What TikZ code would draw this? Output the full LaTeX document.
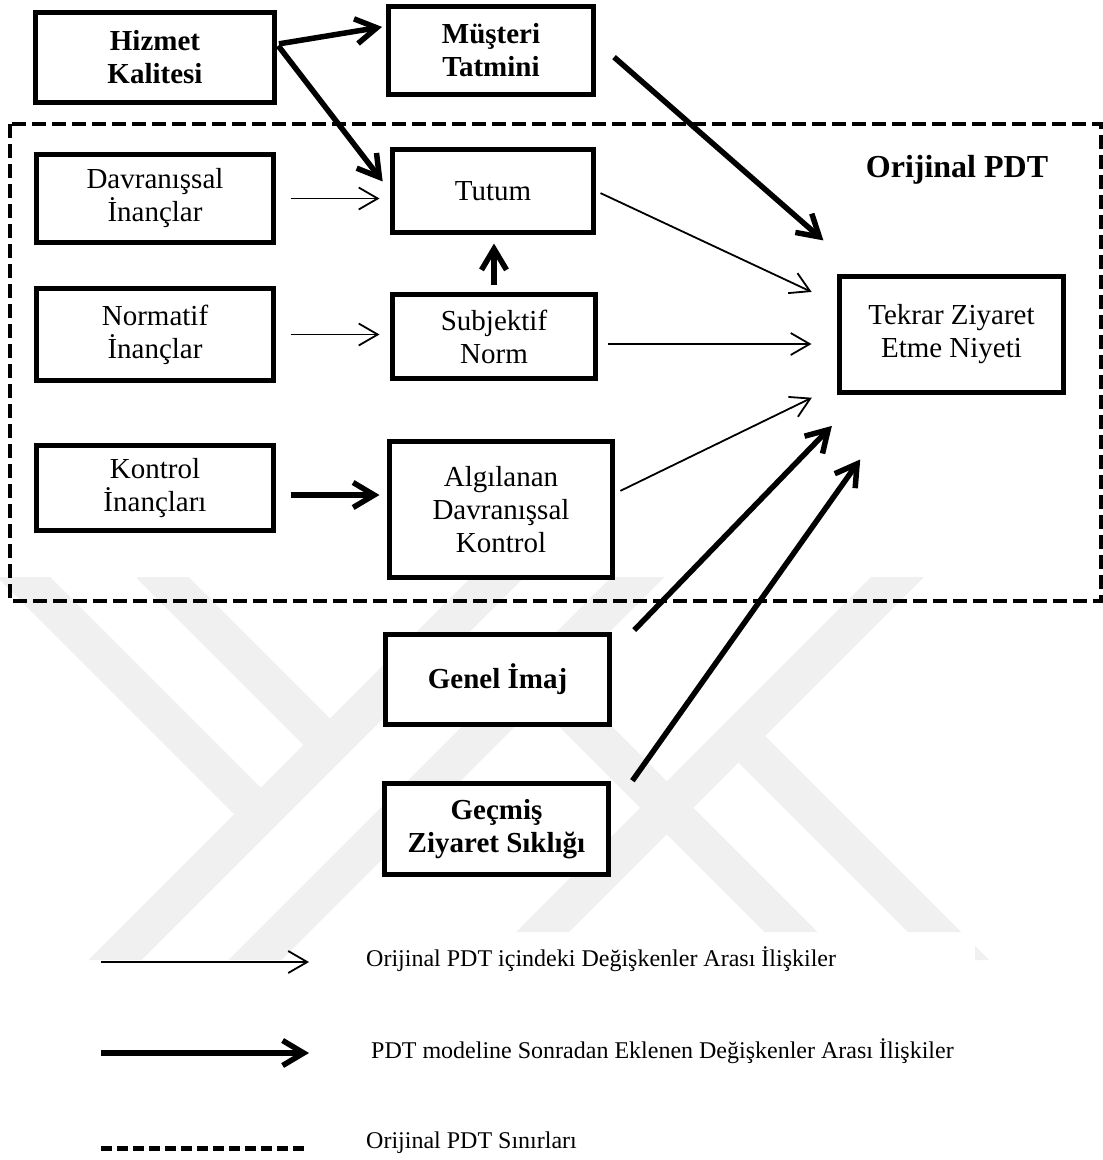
\documentclass[tikz,border=0pt]{standalone}
\usepackage{fontspec}
\setmainfont{Liberation Serif}
\usetikzlibrary{arrows.meta,calc}

\begin{document}
\begin{tikzpicture}[x=1pt,y=-1pt,
  box/.style={draw, line width=5pt, fill=white, align=center, inner sep=0pt,
    font=\fontsize{29}{33}\selectfont},
  boldbox/.style={box, font=\fontsize{29}{33}\selectfont\bfseries},
  thinarrow/.style={line width=1.8pt, -{Straight Barb[length=19pt,width=22pt]}},
  thickarrow/.style={line width=5.5pt, -{Straight Barb[length=21pt,width=25pt]}},
  border/.style={line width=4pt, dash pattern=on 14pt off 6pt},
  legendtext/.style={anchor=base west, inner sep=0pt, font=\fontsize{24}{28}\selectfont},
  band/.style={line width=37.5pt, black!6},
]
\useasboundingbox (0,0) rectangle (1103,1160);

% faint background logo bands
\begin{scope}
  \clip (0,577) -- (1103,577) -- (1103,960) -- (975,960) -- (975,932)
        -- (365,932) -- (365,960) -- (0,960) -- cycle;
  \draw[band] (10,563.5) -- (260.75,814.25);
  \draw[band] (150,565) -- (330,745);
  \draw[band] (100,975) -- (520,555);
  \draw[band] (240,975) -- (660,555);
  \draw[band] (500,974.5) -- (920,554.5);
  \draw[band] (738.5,736) -- (1000,997.5);
  \draw[band] (537,678) -- (850,991);
\end{scope}

% boundary of the original model
\draw[border] (10,124) rectangle (1101,601);
\node[font=\fontsize{32}{36}\selectfont\bfseries] (pdt) at (957,170) {Orijinal PDT};

% variables
\node[boldbox, minimum width=239, minimum height=90] (hizmet) at (155,57) {Hizmet\\Kalitesi};
\node[boldbox, minimum width=205, minimum height=88] (musteri) at (491,50.5) {Müşteri\\Tatmini};
\node[box, minimum width=237, minimum height=88] (davr) at (155,198.5) {Davranışsal\\İnançlar};
\node[box, minimum width=201, minimum height=83] (tutum) at (493,191) {Tutum};
\node[box, minimum width=237, minimum height=92] (norm) at (155,334.5) {Normatif\\İnançlar};
\node[box, minimum width=203, minimum height=84] (subj) at (494,336.5) {Subjektif\\Norm};
\node[box, minimum width=237, minimum height=85] (kontrol) at (155,488) {Kontrol\\İnançları};
\node[box, minimum width=223, minimum height=136] (alg) at (501,509.5) {Algılanan\\Davranışsal\\Kontrol};
\node[box, minimum width=224, minimum height=116] (tekrar) at (951.5,334.5) {Tekrar Ziyaret\\Etme Niyeti};
\node[boldbox, minimum width=224, minimum height=90] (genel) at (497.5,679.5) {Genel İmaj};
\node[boldbox, minimum width=224, minimum height=91] (gecmis) at (496.5,829) {Geçmiş\\Ziyaret Sıklığı};

% relations inside the original model
\draw[thinarrow, shorten <=14.5pt, shorten >=10.5pt] (davr.east) -- (davr.east -| tutum.west);
\draw[thinarrow, shorten <=14.5pt, shorten >=10.5pt] (norm.east) -- (norm.east -| subj.west);
\draw[thinarrow, shorten <=5pt, shorten >=28pt] (tutum.east) -- (tekrar.165);
\coordinate (sa) at ($(subj.east)+(0,7.5)$);
\draw[thinarrow, shorten <=10pt, shorten >=25.5pt] (sa) -- (sa -| tekrar.west);
\draw[thinarrow, shorten <=6pt, shorten >=28pt] (alg.8) -- (tekrar.204);

% relations added to the model
\draw[thickarrow, shorten <=2pt, shorten >=4pt] (hizmet.6) -- (musteri.167);
\draw[thickarrow, shorten <=2pt, shorten >=12pt] (hizmet.6) -- (tutum.west);
\draw[thickarrow, shorten <=24pt, shorten >=51pt] (musteri.5) -- (tekrar.146);
\draw[thickarrow, shorten <=7.5pt, shorten >=8.5pt] (subj.north) -- (subj.north |- tutum.south);
\coordinate (ka) at ($(kontrol.east)+(0,7)$);
\draw[thickarrow, shorten <=14.5pt, shorten >=7.5pt] (ka) -- (ka -| alg.west);
\draw[thickarrow, shorten <=32pt, shorten >=43pt] (genel.13) -- (tekrar.214);
\draw[thickarrow, shorten <=37pt, shorten >=79pt] (gecmis.9) -- (tekrar.233);

% legend
\coordinate (la1) at (101,962);
\coordinate (lb1) at (309,962);
\draw[thinarrow] (la1) -- (lb1);
\node[legendtext] (lt1) at (366,966) {Orijinal PDT içindeki Değişkenler Arası İlişkiler};

\coordinate (la2) at (101,1053);
\coordinate (lb2) at (309,1053);
\draw[thickarrow] (la2) -- (lb2);
\node[legendtext] (lt2) at (371,1058) {PDT modeline Sonradan Eklenen Değişkenler Arası İlişkiler};

\coordinate (la3) at (101,1148);
\coordinate (lb3) at (309,1148);
\draw[line width=5pt, dash pattern=on 11pt off 5pt] (la3) -- (lb3);
\node[legendtext] (lt3) at (366,1148) {Orijinal PDT Sınırları};
\end{tikzpicture}
\end{document}
